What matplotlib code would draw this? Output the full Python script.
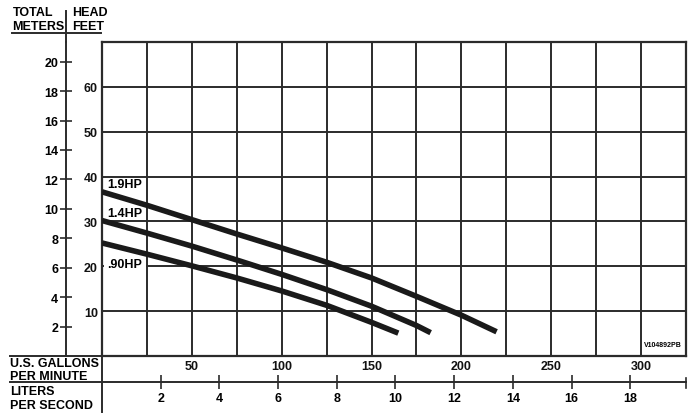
import matplotlib
matplotlib.use("Agg")
import matplotlib.pyplot as plt
from matplotlib.lines import Line2D

plt.rcParams['font.family'] = ['Liberation Sans', 'DejaVu Sans']
plt.rcParams['font.weight'] = 'bold'

# ---- data ----
gpm_19 = [0, 25, 50, 75, 100, 125, 150, 175, 200, 219.6]
ft_19 = [36.6, 33.6, 30.4, 27.2, 24.1, 20.9, 17.4, 13.3, 9.1, 5.4]
gpm_14 = [0, 25, 50, 75, 100, 125, 150, 175, 182.9]
ft_14 = [30.2, 27.4, 24.5, 21.4, 18.2, 14.8, 11.1, 6.8, 5.2]
gpm_09 = [0, 25, 50, 75, 100, 125, 150, 164.9]
ft_09 = [25.2, 22.7, 20.1, 17.4, 14.5, 11.3, 7.5, 5.1]
curve_labels = ['1.9HP', '1.4HP', '.90HP']
gpm_ticks = [50, 100, 150, 200, 250, 300]
gpm_minor = [25, 75, 125, 175, 225, 275]
feet_ticks = [10, 20, 30, 40, 50, 60]
meter_ticks = [2, 4, 6, 8, 10, 12, 14, 16, 18, 20]
lps_ticks = [2, 4, 6, 8, 10, 12, 14, 16, 18]
FT_PER_M = 3.281
GPM_PER_LPS = 16.33  # scale as printed on chart

W, H = 700, 414
fig = plt.figure(figsize=(7, 4.14), dpi=100)

def fx(px):
    return px / W
def fy(py):
    return 1 - py / H

GRID = '#2b2b2b'
TS = 9
ax = fig.add_axes([fx(102), fy(357), (686 - 102) / W, (357 - 43) / H])
ax.set_xlim(0, 325)
ax.set_ylim(0, 70)
ax.set_xticks(gpm_ticks)
ax.set_xticks(gpm_minor, minor=True)
ax.set_yticks(feet_ticks)
ax.grid(True, which='both', color=GRID, linewidth=1.4)
ax.set_axisbelow(True)
for s in ax.spines.values():
    s.set_color(GRID)
    s.set_linewidth(1.6)
ax.tick_params(axis='both', which='both', length=0, labelsize=TS, colors='#111111')
ax.tick_params(axis='x', pad=3)
ax.tick_params(axis='y', pad=3)

lw = 4.0
for g, f in [(gpm_19, ft_19), (gpm_14, ft_14), (gpm_09, ft_09)]:
    ax.plot(g, f, color='#1a1a1a', linewidth=lw, solid_capstyle='butt',
            solid_joinstyle='round', zorder=3)

ax.text(3, 38.3, curve_labels[0], fontsize=TS, fontweight='bold', va='center', ha='left', zorder=4)
ax.text(3, 31.9, curve_labels[1], fontsize=TS, fontweight='bold', va='center', ha='left', zorder=4)
ax.text(3, 20.5, curve_labels[2], fontsize=TS, fontweight='bold', va='center', ha='left', zorder=2.5,
        bbox=dict(facecolor='white', edgecolor='none', pad=2.8))

ax.text(0.993, 0.025, 'V104892PB', transform=ax.transAxes, fontsize=5, fontweight='bold',
        ha='right', va='bottom')

# meters axis
axm = ax.secondary_yaxis((66 - 102) / 584, functions=(lambda f: f / FT_PER_M, lambda m: m * FT_PER_M))
axm.set_yticks(meter_ticks)
axm.spines['left'].set_color(GRID)
axm.spines['left'].set_linewidth(1.4)
axm.tick_params(axis='y', direction='inout', length=9, width=1.2, color=GRID, labelsize=TS, pad=1)

# liters per second axis
axl = ax.secondary_xaxis(-(383 - 357) / 314, functions=(lambda g: g / GPM_PER_LPS, lambda l: l * GPM_PER_LPS))
axl.set_xticks(lps_ticks)
axl.spines['bottom'].set_color(GRID)
axl.spines['bottom'].set_linewidth(1.4)
axl.tick_params(axis='x', direction='inout', length=10, width=1.2, color=GRID, labelsize=TS, pad=2)

# decorative frame lines
def fline(x0, y0, x1, y1, lw=1.4):
    fig.add_artist(Line2D([fx(x0), fx(x1)], [fy(y0), fy(y1)], color=GRID, linewidth=lw))

fline(66, 12, 66, 43)
fline(12, 33.5, 101, 33.5)
fline(10, 357, 102, 357)
fline(10, 383, 102, 383)
fline(685.5, 379, 685.5, 389, 1.2)
fline(102, 357, 102, 413)

# header and row labels
hs = 9
fig.text(fx(13), fy(13), 'TOTAL', fontsize=hs, fontweight='bold', va='center', ha='left')
fig.text(fx(72), fy(13), 'HEAD', fontsize=hs, fontweight='bold', va='center', ha='left')
fig.text(fx(12), fy(26.5), 'METERS', fontsize=hs, fontweight='bold', va='center', ha='left')
fig.text(fx(72), fy(26.5), 'FEET', fontsize=hs, fontweight='bold', va='center', ha='left')
fig.text(fx(10), fy(364), 'U.S. GALLONS', fontsize=hs, fontweight='bold', va='center', ha='left')
fig.text(fx(10), fy(377), 'PER MINUTE', fontsize=hs, fontweight='bold', va='center', ha='left')
fig.text(fx(10), fy(392), 'LITERS', fontsize=hs, fontweight='bold', va='center', ha='left')
fig.text(fx(10), fy(406), 'PER SECOND', fontsize=hs, fontweight='bold', va='center', ha='left')

fig.savefig('out.png', dpi=100)
